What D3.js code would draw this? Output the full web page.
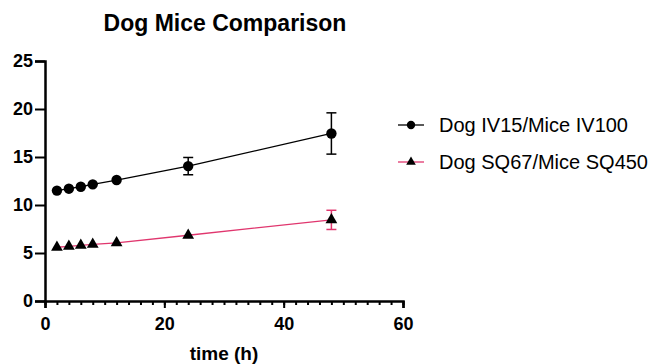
<!DOCTYPE html>
<html>
<head>
<meta charset="utf-8">
<script src="https://cdn.jsdelivr.net/npm/d3@7"></script>
<style>
  body { margin: 0; background: #fff; }
  svg, svg text { font-family: "Liberation Sans", Arial, sans-serif; }
</style>
</head>
<body>
<div id="chart"></div>
<script>
// data
var times = [2, 4, 6, 8, 12, 24, 48];
var ivMean = [11.5, 11.7, 11.9, 12.15, 12.6, 14.05, 17.45];
var ivErr = [0, 0, 0, 0, 0, 0.9, 2.15];
var sqMean = [5.6, 5.7, 5.8, 5.9, 6.05, 6.85, 8.45];
var sqErr = [0, 0, 0, 0, 0, 0, 1.0];
var seriesNames = ["Dog IV15/Mice IV100", "Dog SQ67/Mice SQ450"];
var yTicks = [0, 5, 10, 15, 20, 25];
var xTicks = [0, 20, 40, 60];

var W = 651, H = 364;
var pink = "#e0366e";

var svg = d3.select("#chart").append("svg")
  .attr("width", W).attr("height", H);

var x = d3.scaleLinear().domain([0, 60]).range([45, 403]);
var y = d3.scaleLinear().domain([0, 25]).range([301, 61]);

// title
svg.append("text")
  .attr("x", 225).attr("y", 31)
  .attr("text-anchor", "middle")
  .style("font-size", "23px").style("font-weight", "bold")
  .text("Dog Mice Comparison");

// y axis
var yAxis = svg.append("g")
  .attr("transform", "translate(" + x(0) + ",0)")
  .call(d3.axisLeft(y).tickValues(yTicks).tickSize(10).tickPadding(2));
yAxis.selectAll("text").style("font-size", "18px").style("font-weight", "bold").attr("fill", "#000");

// x axis, minor ticks every 2 h
var xMinor = svg.append("g")
  .attr("transform", "translate(0," + y(0) + ")")
  .call(d3.axisBottom(x).tickValues(d3.range(0, 61, 2)).tickSize(4).tickFormat(""));
xMinor.select(".domain").remove();
var xAxis = svg.append("g")
  .attr("transform", "translate(0," + y(0) + ")")
  .call(d3.axisBottom(x).tickValues(xTicks).tickSize(7).tickPadding(9));
xAxis.selectAll("text").style("font-size", "18px").style("font-weight", "bold").attr("fill", "#000");

svg.selectAll("g.tick text").style("font-family", "'Liberation Sans', Arial, sans-serif");
svg.selectAll(".domain").attr("stroke", "#000").attr("stroke-width", 2.5);
svg.selectAll(".tick line").attr("stroke", "#000").attr("stroke-width", 2);

svg.append("text")
  .attr("x", 224).attr("y", 360)
  .attr("text-anchor", "middle")
  .style("font-size", "19px").style("font-weight", "bold")
  .text("time (h)");

var line = d3.line().x(function (d) { return x(d.t); }).y(function (d) { return y(d.v); });

function drawSeries(mean, err, color, shape) {
  var pts = times.map(function (t, i) { return { t: t, v: mean[i], e: err[i] }; });
  var g = svg.append("g");
  g.append("path").datum(pts)
    .attr("d", line).attr("fill", "none")
    .attr("stroke", color).attr("stroke-width", 1.3);

  var eb = g.selectAll(".eb").data(pts.filter(function (d) { return d.e > 0; }))
    .enter().append("g").attr("stroke", color).attr("stroke-width", 1.5);
  eb.append("line")
    .attr("x1", function (d) { return x(d.t); }).attr("x2", function (d) { return x(d.t); })
    .attr("y1", function (d) { return y(d.v + d.e); }).attr("y2", function (d) { return y(d.v - d.e); });
  [1, -1].forEach(function (s) {
    eb.append("line")
      .attr("x1", function (d) { return x(d.t) - 5; }).attr("x2", function (d) { return x(d.t) + 5; })
      .attr("y1", function (d) { return y(d.v + s * d.e); }).attr("y2", function (d) { return y(d.v + s * d.e); });
  });

  g.selectAll(".m").data(pts).enter().append("path")
    .attr("transform", function (d) { return "translate(" + x(d.t) + "," + y(d.v) + ")"; })
    .attr("d", d3.symbol().type(shape).size(shape === d3.symbolCircle ? 85 : 60))
    .attr("fill", "#000");
}

drawSeries(ivMean, ivErr, "#000", d3.symbolCircle);
drawSeries(sqMean, sqErr, pink, d3.symbolTriangle);

// legend
var legend = svg.append("g");
var legendRows = [
  { name: seriesNames[0], color: "#000", shape: d3.symbolCircle, size: 55, yy: 125 },
  { name: seriesNames[1], color: pink, shape: d3.symbolTriangle, size: 40, yy: 162 }
];
legendRows.forEach(function (r) {
  legend.append("line")
    .attr("x1", 398).attr("x2", 424).attr("y1", r.yy).attr("y2", r.yy)
    .attr("stroke", r.color).attr("stroke-width", 1.3);
  legend.append("path")
    .attr("transform", "translate(411," + r.yy + ")")
    .attr("d", d3.symbol().type(r.shape).size(r.size))
    .attr("fill", "#000");
  legend.append("text")
    .attr("x", 439).attr("y", r.yy + 7)
    .style("font-size", "20px")
    .text(r.name);
});
</script>
</body>
</html>
